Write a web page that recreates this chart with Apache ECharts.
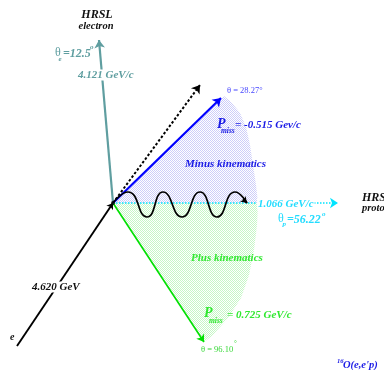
<!DOCTYPE html>
<html>
<head>
<meta charset="utf-8">
<script src="https://cdn.jsdelivr.net/npm/echarts@6/dist/echarts.min.js"></script>
<style>
  html, body { margin: 0; padding: 0; background: #fff; }
  #main { width: 384px; height: 370px; }
</style>
</head>
<body>
<div id="main"></div>
<script>
// 16O(e,e'p) kinematics: momenta in GeV/c, angles in degrees
const beamEnergy = 4.620;
const electronMomentum = 4.121;
const protonMomentum = 1.066;
const missingMomenta = [-0.515, 0.725];   // minus, plus
const electronAngle = 12.5;
const protonAngle = 56.22;
const missingAngles = [28.27, 96.10];     // minus, plus

// Schematic vector tips in drawing units, vertex at the origin
const beamStart = [-96, -143];
const electronTip = [-14, 163];
const qTip = [87, 118];
const minusTip = [108, 105];
const plusTip = [91, -139];
const protonTip = [225, 0];

// Outlines of the minus / plus kinematics regions
const minusRegion = [[0, 0], [111, 107], [119, 100], [127, 90], [133, 76], [137, 58], [140, 38], [143, 18], [145, 0]];
const plusRegion = [[0, 0], [145, 0], [144, -22], [141, -47], [136, -72], [128, -95], [115, -115], [99, -133], [91, -139]];

// Virtual photon wiggle: start, crests / troughs, end
const photonWave = [[0, 0], [15, 11], [34, -14], [50, 11], [69, -14], [87, 11], [104, -14], [122, 11], [134, 0]];

const TEAL = '#5f9ea0';
const BLUE = '#0000ff';
const BLUE_TEXT = '#1a1ae6';
const CYAN = '#00e4ff';
const CYAN_TEXT = '#22dcff';
const GREEN = '#00e000';
const GREEN_TEXT = '#30e830';

// fine dotted fill like a screen-tone
function tone(dot) {
  const c = document.createElement('canvas');
  c.width = 2; c.height = 2;
  const g = c.getContext('2d');
  g.fillStyle = '#ffffff'; g.fillRect(0, 0, 2, 2);
  g.fillStyle = dot; g.fillRect(0, 0, 1, 1); g.fillRect(1, 1, 1, 1);
  return { image: c, repeat: 'repeat' };
}
const regions = [
  { pts: minusRegion, fill: tone('#cdcdf9') },
  { pts: plusRegion, fill: tone('#c6f7c6') }
];

const SERIF = '"Liberation Serif", "DejaVu Serif", serif';
function txt(text, x, y, size, color, o) {
  o = o || {};
  const style = {
    text: text,
    font: (o.plain ? '' : 'italic bold ') + size + 'px ' + SERIF,
    fill: color,
    align: o.align || 'left',
    verticalAlign: 'middle',
    textAlign: o.align || 'left',
    textVerticalAlign: 'middle'
  };
  if (o.bg) { style.backgroundColor = '#ffffff'; style.padding = [0, 1]; }
  return { type: 'text', x: x, y: y, z: 100, silent: true, style: style };
}

function vec(tip, color, width, dash, size) {
  return {
    type: 'lines',
    coordinateSystem: 'cartesian2d',
    symbol: ['none', 'arrow'],
    symbolSize: size || 8,
    silent: true,
    z: 5,
    lineStyle: { color: color, width: width, type: dash || 'solid', opacity: 1, curveness: 0 },
    data: [{ coords: [[0, 0], tip] }]
  };
}

const fmt = (v, d) => v.toFixed(d);

const chart = echarts.init(document.getElementById('main'), null, { renderer: 'canvas' });
chart.setOption({
  animation: false,
  backgroundColor: '#ffffff',
  grid: { left: 0, right: 0, top: 0, bottom: 0 },
  xAxis: { type: 'value', min: -113, max: 271, show: false },
  yAxis: { type: 'value', min: -167, max: 203, show: false },
  series: [
    {
      type: 'custom',
      silent: true,
      z: 1,
      clip: false,
      data: [0, 1],
      renderItem: function (params, api) {
        const r = regions[params.dataIndex];
        return {
          type: 'polygon',
          shape: { points: r.pts.map(p => api.coord(p)) },
          style: { fill: r.fill }
        };
      }
    },
    {
      type: 'lines',
      coordinateSystem: 'cartesian2d',
      symbol: ['none', 'arrow'],
      symbolSize: 6,
      silent: true,
      z: 5,
      lineStyle: { color: '#000', width: 1.9, opacity: 1 },
      data: [{ coords: [beamStart, [0, 0]] }]
    },
    vec(electronTip, TEAL, 2.2),
    vec(qTip, '#000', 2, [2.5, 2], 8),
    vec(minusTip, BLUE, 2.2),
    vec(plusTip, GREEN, 1.6, 'solid', 7),
    vec(protonTip, CYAN, 1.6, [1.5, 1.5], 8),
    {
      type: 'line',
      data: photonWave,
      smooth: 0.55,
      showSymbol: false,
      silent: true,
      z: 6,
      lineStyle: { color: '#000', width: 1.7 }
    },
    {
      type: 'lines',
      coordinateSystem: 'cartesian2d',
      symbol: ['none', 'arrow'],
      symbolSize: 6,
      silent: true,
      z: 6,
      lineStyle: { color: '#000', width: 1.7, opacity: 1 },
      data: [{ coords: [[130, 4], photonWave[photonWave.length - 1]] }]
    },
    {
      type: 'scatter',
      data: [[0, 0]],
      symbolSize: 4,
      silent: true,
      z: 7,
      itemStyle: { color: '#000' }
    }
  ],
  graphic: { elements: [
    txt('HRSL', 97, 15, 12, '#111', { align: 'center' }),
    txt('electron', 96, 26, 10.5, '#111', { align: 'center' }),

    txt('\u03b8', 55, 53, 12, TEAL, { plain: true }),
    txt('e', 58.5, 59.5, 7, TEAL),
    txt('=' + fmt(electronAngle, 1), 63, 54, 12, TEAL),
    txt('o', 90, 47, 7, TEAL),
    txt(fmt(electronMomentum, 3) + ' GeV/c', 77, 75, 11, TEAL, { bg: true }),

    txt('\u03b8 = ' + fmt(missingAngles[0], 2) + '\u00b0', 227, 91, 8.5, '#4848ff', { plain: true }),
    txt('P', 217, 124, 14, BLUE_TEXT),
    txt('miss', 221, 131, 7.5, BLUE_TEXT),
    txt('= ' + fmt(missingMomenta[0], 3) + ' Gev/c', 235, 125.5, 11, BLUE_TEXT),
    txt('Minus kinematics', 185, 164, 11, BLUE_TEXT),

    txt(fmt(protonMomentum, 3) + ' GeV/c', 257, 204, 11, CYAN_TEXT, { bg: true }),
    txt('\u03b8', 278, 218.5, 12, CYAN_TEXT, { plain: true }),
    txt('p', 282.5, 224, 7, CYAN_TEXT),
    txt('=' + fmt(protonAngle, 2), 287, 219.5, 12, CYAN_TEXT),
    txt('o', 322, 214, 7, CYAN_TEXT),

    txt('HRSR', 362, 198, 12, '#111'),
    txt('proton', 362, 208.5, 10.5, '#111'),

    txt('Plus kinematics', 191, 258, 11, GREEN_TEXT),
    txt('P', 204, 313, 14, GREEN_TEXT),
    txt('miss', 209, 321, 7.5, GREEN_TEXT),
    txt('= ' + fmt(missingMomenta[1], 3) + ' GeV/c', 227, 315, 11, GREEN_TEXT),
    txt('\u03b8 = ' + fmt(missingAngles[1], 2), 201, 350, 8.5, '#38d838', { plain: true }),
    txt('\u00b0', 234, 343, 7, '#38d838', { plain: true }),

    txt(fmt(beamEnergy, 3) + ' GeV', 31, 287, 11, '#111', { bg: true }),
    txt('e', 10, 337, 10, '#111'),

    txt('16', 337, 361.5, 6.5, BLUE_TEXT),
    txt('O(e,e\'p)', 343, 365, 10.5, BLUE_TEXT)
  ] }
});
</script>
</body>
</html>
